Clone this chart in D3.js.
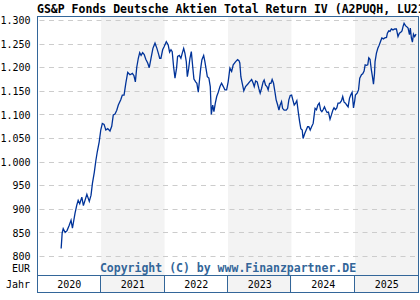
<!DOCTYPE html>
<html lang="de">
    <head>
        <meta charset="utf-8">
        <script src="https://d3js.org/d3.v7.min.js"></script>
    </head>

    <style>
        body {
            margin: 0;
            background-color: #ffffff;
        }
        text {
            font-family: "DejaVu Sans Mono", monospace;
        }
    </style>

    <body>
        <script>
            // chart texts
            var titleText = "GS&P Fonds Deutsche Aktien Total Return IV (A2PUQH, LU2146192377)";
            var copyText = "Copyright (C) by www.Finanzpartner.DE";
            var unitLabel = "EUR";
            var yearLabel = "Jahr";

            // categories + ticks
            var years = [2020, 2021, 2022, 2023, 2024, 2025];
            var yTicks = [800, 850, 900, 950, 1000, 1050, 1100, 1150, 1200, 1250, 1300];

            // price series
            var dates = [
                "2020-05-16","2020-05-22","2020-05-28","2020-06-08","2020-06-19","2020-07-01","2020-07-12","2020-07-20",
                "2020-08-04","2020-08-14","2020-08-22","2020-08-31","2020-09-12","2020-09-21","2020-10-11","2020-10-25",
                "2020-11-04","2020-11-12","2020-11-23","2020-12-02","2020-12-10","2020-12-21","2020-12-30",
                "2021-01-08","2021-01-18","2021-01-28","2021-02-08","2021-02-21","2021-03-03","2021-03-12","2021-03-22",
                "2021-04-01","2021-04-10","2021-04-24","2021-05-03","2021-05-13","2021-05-23","2021-06-03","2021-06-16",
                "2021-06-30","2021-07-09","2021-07-17","2021-07-25","2021-08-03","2021-08-11","2021-08-19","2021-08-28",
                "2021-09-06","2021-09-15","2021-09-26","2021-10-05","2021-10-15","2021-10-26","2021-11-07","2021-11-18",
                "2021-11-26","2021-12-04","2021-12-11","2021-12-21","2021-12-30",
                "2022-01-11","2022-01-22","2022-01-30","2022-02-07","2022-02-14","2022-02-22","2022-03-02","2022-03-11",
                "2022-03-17","2022-03-27","2022-04-05","2022-04-13","2022-04-21","2022-04-28","2022-05-06","2022-05-12",
                "2022-05-20","2022-05-27","2022-06-04","2022-06-12","2022-06-19","2022-06-29","2022-07-06","2022-07-14",
                "2022-07-20","2022-07-28","2022-08-04","2022-08-14","2022-08-21","2022-08-29","2022-09-04","2022-09-13",
                "2022-09-21","2022-09-27","2022-10-05","2022-10-12","2022-10-20","2022-10-28","2022-11-06","2022-11-16",
                "2022-11-25","2022-12-05","2022-12-14","2022-12-24",
                "2023-01-02","2023-01-12","2023-01-22","2023-01-31","2023-02-14","2023-02-25","2023-03-05","2023-03-10",
                "2023-03-16","2023-03-24","2023-04-02","2023-04-12","2023-04-24","2023-05-05","2023-05-17","2023-05-26",
                "2023-06-01","2023-06-09","2023-06-18","2023-06-28","2023-07-05","2023-07-13","2023-07-22","2023-07-28",
                "2023-08-05","2023-08-13","2023-08-20","2023-08-28","2023-09-05","2023-09-12","2023-09-20","2023-09-28",
                "2023-10-05","2023-10-13","2023-10-21","2023-10-28","2023-11-05","2023-11-11","2023-11-20","2023-12-02",
                "2023-12-10","2023-12-17","2023-12-25",
                "2024-01-02","2024-01-09","2024-01-17","2024-01-25","2024-02-01","2024-02-09","2024-02-17","2024-02-24",
                "2024-03-03","2024-03-08","2024-03-18","2024-03-26","2024-04-03","2024-04-10","2024-04-18","2024-04-26",
                "2024-05-05","2024-05-11","2024-05-16","2024-05-24","2024-06-01","2024-06-09","2024-06-17","2024-06-24",
                "2024-07-01","2024-07-09","2024-07-17","2024-07-24","2024-08-01","2024-08-10","2024-08-18","2024-08-26",
                "2024-09-02","2024-09-10","2024-09-18","2024-09-25","2024-10-05","2024-10-15","2024-10-22","2024-10-30",
                "2024-11-07","2024-11-14","2024-11-22","2024-11-30","2024-12-07","2024-12-15","2024-12-23","2024-12-30",
                "2025-01-03","2025-01-13","2025-01-21","2025-01-28","2025-02-07","2025-02-14","2025-02-22","2025-02-28",
                "2025-03-08","2025-03-15","2025-03-21","2025-03-28","2025-04-05","2025-04-11","2025-04-17","2025-04-23",
                "2025-04-26","2025-05-04","2025-05-12","2025-05-19","2025-05-27","2025-06-04","2025-06-13","2025-06-21",
                "2025-07-01","2025-07-06","2025-07-14","2025-07-21","2025-07-29","2025-08-07","2025-08-17","2025-08-27",
                "2025-09-05","2025-09-13","2025-09-21","2025-09-28","2025-10-04","2025-10-10","2025-10-18","2025-10-25",
                "2025-11-02","2025-11-10","2025-11-15","2025-11-21","2025-11-27","2025-12-03","2025-12-10","2025-12-18"
            ];
            var prices = [
                817, 850, 859, 851, 855, 866, 877, 860,
                892, 909, 919, 912, 926, 908, 932, 917,
                930, 955, 979, 1004, 1022, 1043, 1068,
                1082, 1080, 1068, 1071, 1066, 1076, 1100, 1102,
                1110, 1121, 1132, 1142, 1142, 1167, 1190, 1185,
                1188, 1183, 1170, 1201, 1220, 1232, 1226, 1232,
                1228, 1218, 1210, 1200, 1220, 1241, 1252, 1241,
                1231, 1220, 1220, 1238, 1245,
                1255, 1248, 1233, 1238, 1234, 1202, 1178, 1199,
                1224, 1226, 1220, 1231, 1241, 1231, 1213, 1181,
                1199, 1220, 1234, 1202, 1176, 1170, 1167, 1148,
                1170, 1199, 1217, 1226, 1213, 1195, 1181, 1178,
                1160, 1101, 1121, 1107, 1125, 1139, 1148, 1160,
                1167, 1160, 1153, 1153,
                1170, 1199, 1192, 1206, 1213, 1217, 1215, 1210,
                1181, 1167, 1151, 1160, 1165, 1170, 1175, 1167,
                1160, 1172, 1170, 1155, 1146, 1156, 1170, 1174,
                1163, 1160, 1153, 1167, 1167, 1175, 1167, 1149,
                1132, 1122, 1110, 1121, 1128, 1114, 1110, 1110,
                1114, 1132, 1141,
                1142, 1132, 1121, 1125, 1130, 1107, 1086, 1071,
                1068, 1050, 1061, 1068, 1075, 1075, 1068, 1075,
                1082, 1100, 1114, 1111, 1121, 1125, 1110, 1107,
                1111, 1117, 1110, 1105, 1106, 1091, 1100, 1110,
                1115, 1111, 1115, 1125, 1125, 1130, 1139, 1127,
                1125, 1121, 1117, 1135, 1142, 1148, 1115, 1130,
                1142, 1146, 1153, 1178, 1185, 1187, 1193, 1206,
                1205, 1206, 1221, 1218, 1195, 1181, 1165, 1188,
                1213, 1231, 1241, 1247, 1255, 1263, 1261, 1263,
                1264, 1273, 1278, 1277, 1282, 1280, 1282, 1282,
                1266, 1273, 1275, 1278, 1287, 1294, 1289, 1287,
                1284, 1270, 1284, 1263, 1254, 1271, 1266, 1271
            ];

            var width = 420;
            var height = 300;
            var plotLeft = 37.5, plotRight = 418.5, plotTop = 16.5, plotBottom = 275.5, bandBottom = 292.5;

            var parseDate = d3.timeParse("%Y-%m-%d");
            var series = dates.map(function(d, i){
                return {date: parseDate(d), value: prices[i]};
            });

            var de = d3.formatLocale({decimal: ",", thousands: ".", grouping: [3], currency: ["", " €"]});
            var fmt = de.format(",.0f");

            var svg = d3.select("body")
                        .append("svg")
                        .attr("width", width)
                        .attr("height", height);

            var x = d3.scaleTime()
                        .domain([new Date(2020, 0, 1), new Date(2026, 0, 1)])
                        .range([plotLeft, plotRight]);

            var y = d3.scaleLinear()
                        .domain([761, 1309.5])
                        .range([plotBottom - 0.5, plotTop - 0.5]);

            // alternating year shading (plot + year band)
            svg.selectAll("rect.shade")
                .data(years.filter(function(d, i){ return i % 2 == 1; }))
                .enter()
                .append("rect")
                .attr("class", "shade")
                .attr("x", function(d){ return x(new Date(d, 0, 1)); })
                .attr("y", plotTop)
                .attr("width", function(d){ return x(new Date(d + 1, 0, 1)) - x(new Date(d, 0, 1)); })
                .attr("height", bandBottom - plotTop)
                .attr("fill", "#f3f3f3");

            // dashed grid
            svg.selectAll("line.grid")
                .data(yTicks)
                .enter()
                .append("line")
                .attr("class", "grid")
                .attr("x1", plotLeft + 2)
                .attr("x2", plotRight - 1)
                .attr("y1", function(d){ return Math.floor(y(d)) + 0.5; })
                .attr("y2", function(d){ return Math.floor(y(d)) + 0.5; })
                .attr("stroke", "#cccccc")
                .attr("stroke-width", 1)
                .attr("stroke-dasharray", "5,4.5");

            // y labels through the axis
            var yAxis = d3.axisLeft(y)
                        .tickValues(yTicks)
                        .tickSize(0)
                        .tickPadding(7)
                        .tickFormat(fmt);

            svg.append("g")
                .attr("transform", "translate(" + plotLeft + ",0)")
                .call(yAxis)
                .call(function(g){ g.select(".domain").remove(); })
                .selectAll("text")
                .style("font-family", "'DejaVu Sans Mono', monospace")
                .style("font-size", "10px")
                .attr("fill", "#000");

            // price line
            var line = d3.line()
                        .x(function(d){ return x(d.date); })
                        .y(function(d){ return y(d.value); });

            svg.append("path")
                .datum(series)
                .attr("d", line)
                .attr("fill", "none")
                .attr("stroke", "#003399")
                .attr("stroke-width", 1.3)
                .attr("stroke-linejoin", "miter");

            // frame + year band
            svg.append("rect")
                .attr("x", plotLeft)
                .attr("y", plotTop)
                .attr("width", plotRight - plotLeft)
                .attr("height", bandBottom - plotTop)
                .attr("fill", "none")
                .attr("stroke", "#336699")
                .attr("stroke-width", 1);

            svg.append("line")
                .attr("x1", plotLeft).attr("x2", plotRight)
                .attr("y1", plotBottom).attr("y2", plotBottom)
                .attr("stroke", "#336699");

            svg.selectAll("line.yearsep")
                .data(years.slice(1))
                .enter()
                .append("line")
                .attr("class", "yearsep")
                .attr("x1", function(d){ return Math.round(x(new Date(d, 0, 1))) - 0.5; })
                .attr("x2", function(d){ return Math.round(x(new Date(d, 0, 1))) - 0.5; })
                .attr("y1", plotBottom)
                .attr("y2", bandBottom)
                .attr("stroke", "#336699");

            svg.selectAll("text.year")
                .data(years)
                .enter()
                .append("text")
                .attr("class", "year")
                .attr("x", function(d){ return (x(new Date(d, 0, 1)) + x(new Date(d + 1, 0, 1))) / 2; })
                .attr("y", 288)
                .attr("text-anchor", "middle")
                .style("font-size", "10px")
                .text(function(d){ return d; });

            svg.append("text")
                .attr("x", 30)
                .attr("y", 272)
                .attr("text-anchor", "end")
                .style("font-size", "10px")
                .text(unitLabel);

            svg.append("text")
                .attr("x", 30)
                .attr("y", 288)
                .attr("text-anchor", "end")
                .style("font-size", "10px")
                .text(yearLabel);

            svg.append("text")
                .attr("x", (plotLeft + plotRight) / 2)
                .attr("y", 271.5)
                .attr("text-anchor", "middle")
                .attr("fill", "#336699")
                .style("font-size", "11.5px")
                .style("font-weight", "bold")
                .text(copyText);

            svg.append("text")
                .attr("x", 37)
                .attr("y", 12.5)
                .style("font-size", "11.5px")
                .style("font-weight", "bold")
                .attr("fill", "#000")
                .text(titleText);
        </script>
    </body>
</html>
